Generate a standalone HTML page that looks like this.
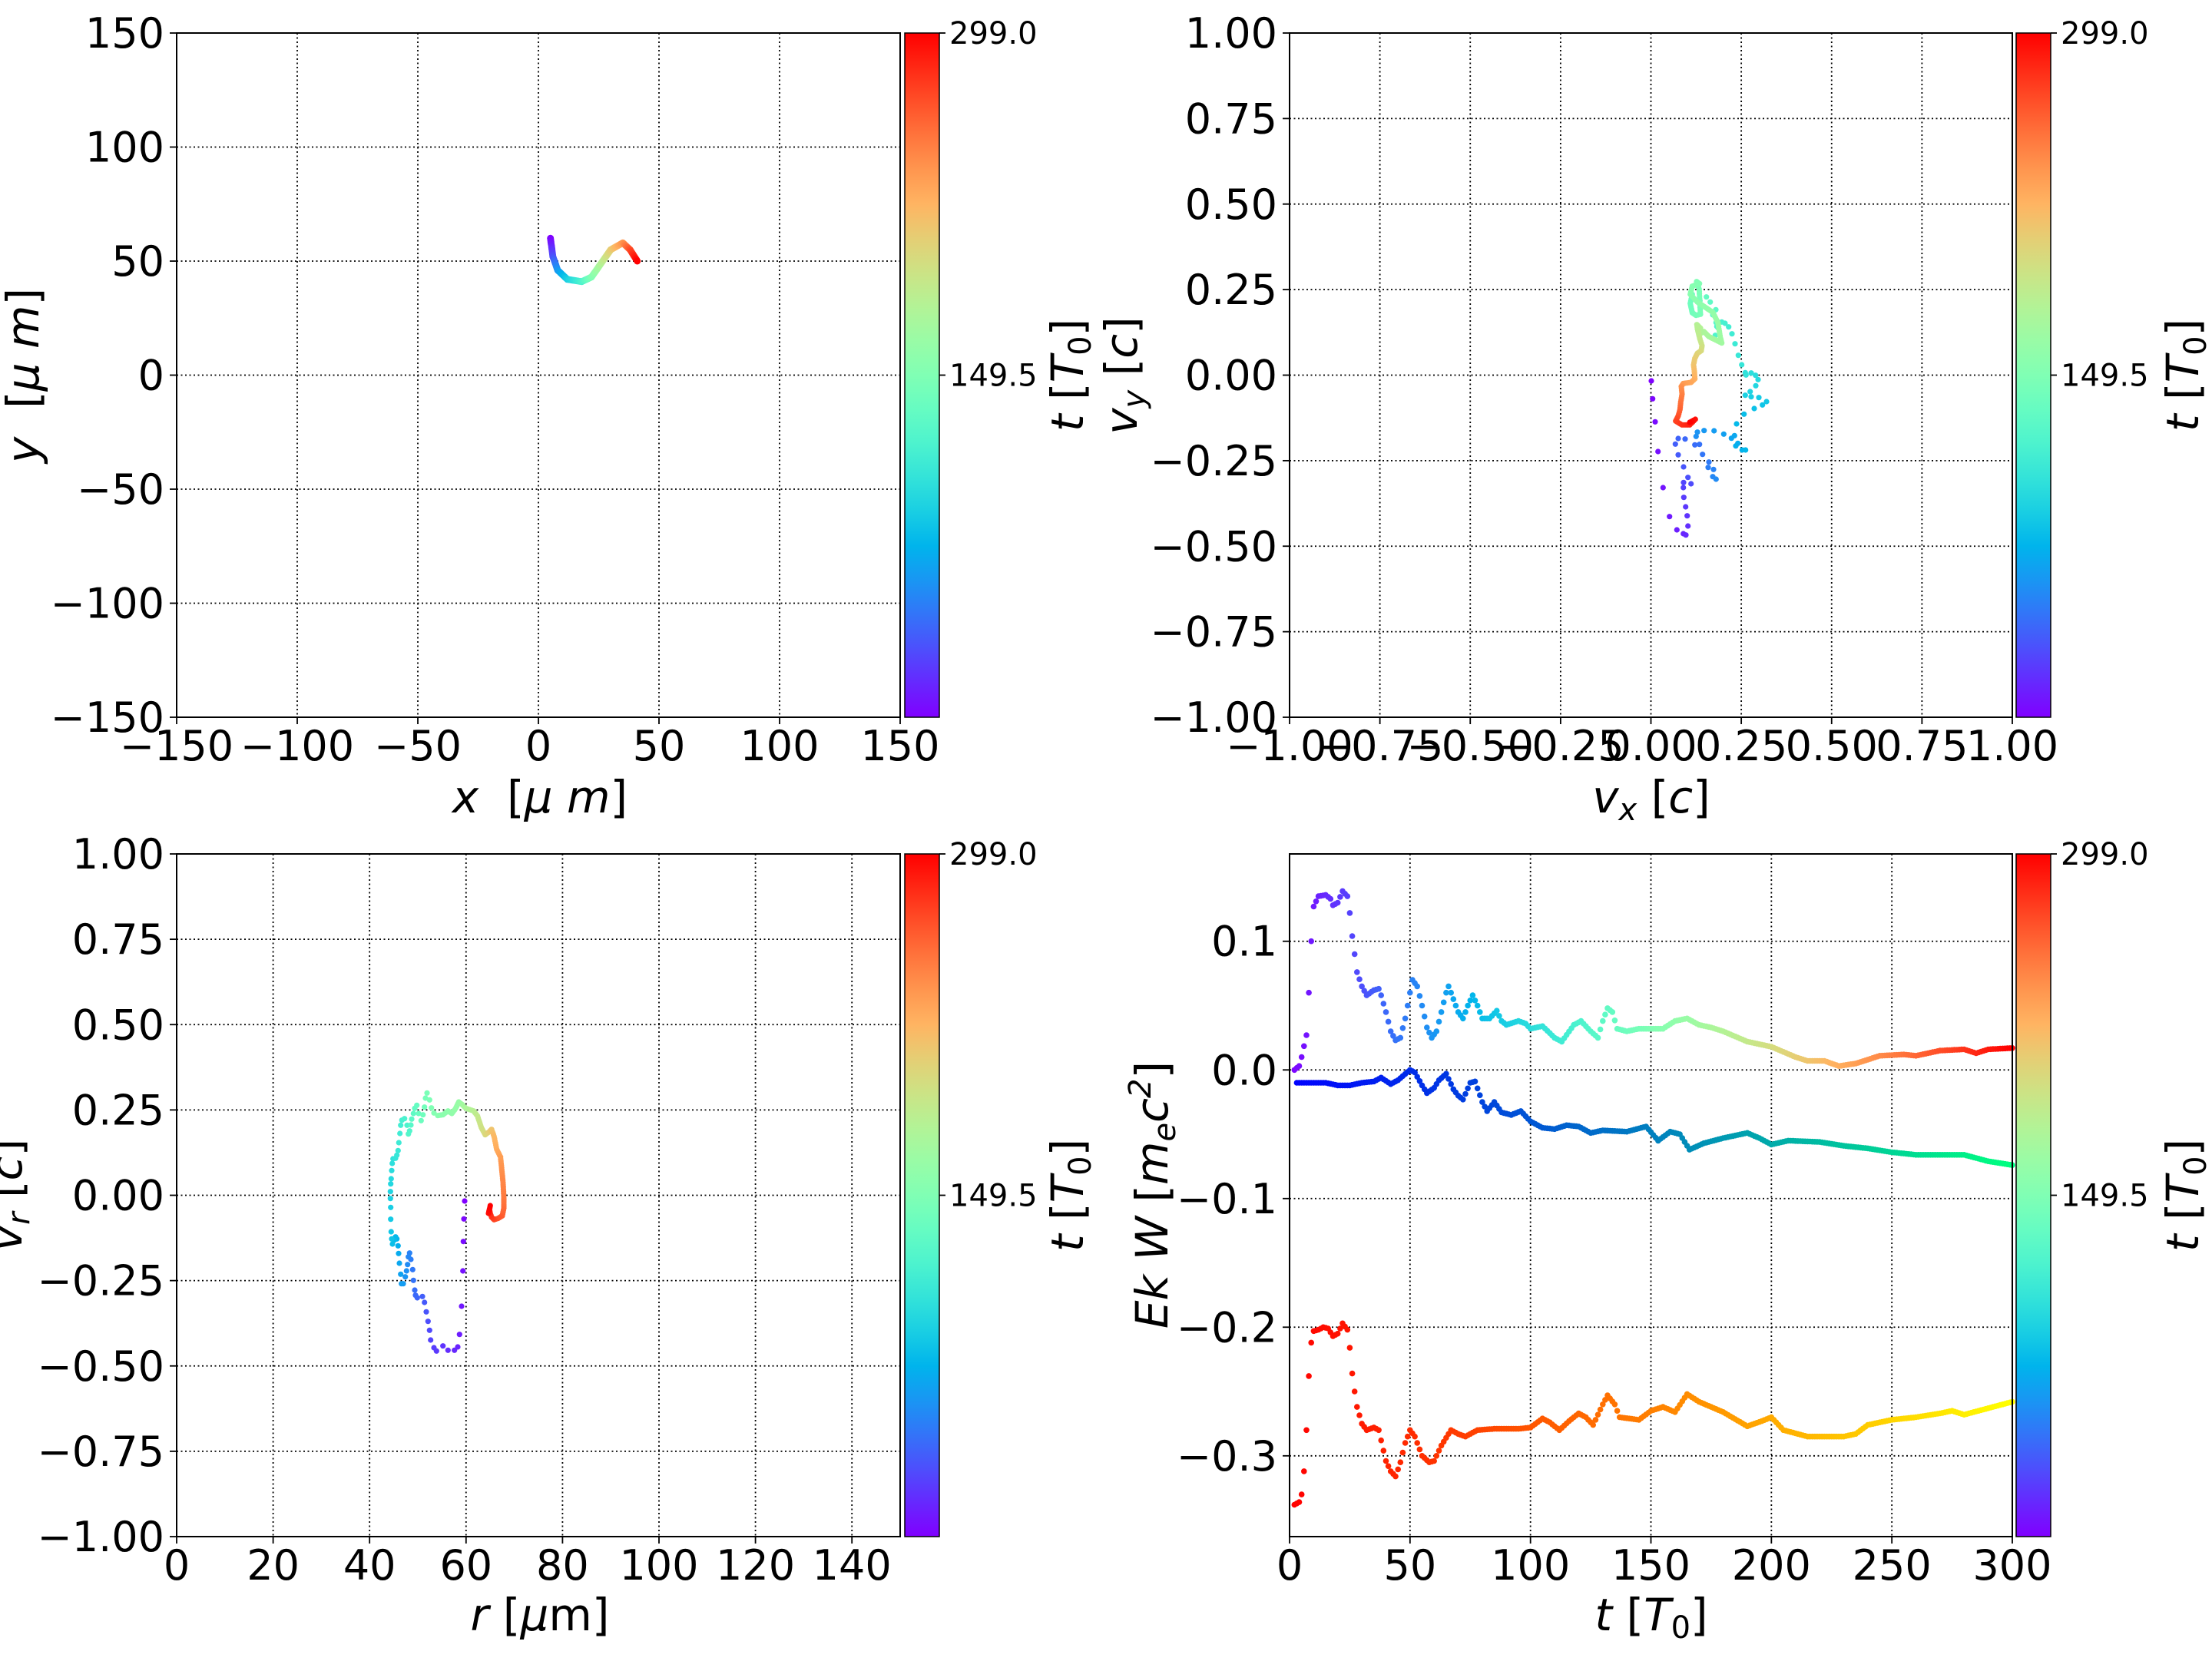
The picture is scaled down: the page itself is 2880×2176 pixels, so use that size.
<!DOCTYPE html>
<html><head><meta charset="utf-8">
<style>html,body{margin:0;padding:0;background:#fff;}svg{display:block;}</style>
</head><body>
<svg id="s" xmlns="http://www.w3.org/2000/svg" width="2880" height="2176" viewBox="0 0 2880 2176" font-family="DejaVu Sans, Liberation Sans, sans-serif"></svg>
<script>
(function(){
const S=document.getElementById('s');let out='';
function cl(x){return Math.max(0,Math.min(1,x));}
function hex(r,g,b){return 'rgb('+Math.round(cl(r)*255)+','+Math.round(cl(g)*255)+','+Math.round(cl(b)*255)+')';}
function rb(v){v=cl(v);return hex(Math.abs(2*v-0.5),Math.sin(Math.PI*v),Math.cos(Math.PI*v/2));}
function winter(v){v=cl(v);return hex(0,v,1-v/2);}
function autumn(v){v=cl(v);return hex(1,v,0);}
function pw(knots){return function(v){for(let i=0;i<knots.length-1;i++){const a=knots[i],b=knots[i+1];if(v<=b[0]){return rb(a[1]+(b[1]-a[1])*(v-a[0])/(b[0]-a[0]));}}return rb(1);};}
let g='<defs><linearGradient id="cb" x1="0" y1="1" x2="0" y2="0">';
for(let i=0;i<=20;i++){g+='<stop offset="'+(i/20)+'" stop-color="'+rb(i/20)+'"/>';}
g+='</linearGradient></defs>';out+=g;
const M='−';
function fmt(v,d){let s=Math.abs(v).toFixed(d);return (v<0?M:'')+s;}
function axes(o){
  const L=o.L,R=o.R,T=o.T,B=o.B,x0=o.x0,x1=o.x1,y0=o.y0,y1=o.y1;
  const X=v=>L+(v-x0)/(x1-x0)*(R-L), Y=v=>B-(v-y0)/(y1-y0)*(B-T);
  let s='';
  o.xt.forEach(v=>{const px=X(v);
    if(px>L+1&&px<R-1) s+='<line x1="'+px+'" y1="'+T+'" x2="'+px+'" y2="'+B+'" stroke="#000" stroke-width="1.8" stroke-dasharray="2,3.5"/>';
    s+='<line x1="'+px+'" y1="'+B+'" x2="'+px+'" y2="'+(B+9)+'" stroke="#000" stroke-width="1.8"/>';
    s+='<text x="'+px+'" y="'+(B+56)+'" font-size="54" text-anchor="middle">'+fmt(v,o.xd)+'</text>';});
  o.yt.forEach(v=>{const py=Y(v);
    if(py>T+1&&py<B-1) s+='<line x1="'+L+'" y1="'+py+'" x2="'+R+'" y2="'+py+'" stroke="#000" stroke-width="1.8" stroke-dasharray="2,3.5"/>';
    s+='<line x1="'+(L-9)+'" y1="'+py+'" x2="'+L+'" y2="'+py+'" stroke="#000" stroke-width="1.8"/>';
    s+='<text x="'+(L-16)+'" y="'+(py+19)+'" font-size="54" text-anchor="end">'+fmt(v,o.yd)+'</text>';});
  o.X=X;o.Y=Y;
  o.frame='<rect x="'+L+'" y="'+T+'" width="'+(R-L)+'" height="'+(B-T)+'" fill="none" stroke="#000" stroke-width="2"/>';
  return s;
}
function cbar(cx,T,B,labx){
  let s='<rect x="'+cx+'" y="'+T+'" width="45" height="'+(B-T)+'" fill="url(#cb)" stroke="#000" stroke-width="1.5"/>';
  [[T,'299.0'],[(T+B)/2,'149.5']].forEach(function(a){var y=a[0],t=a[1];
    s+='<line x1="'+(cx+45)+'" y1="'+y+'" x2="'+(cx+53)+'" y2="'+y+'" stroke="#000" stroke-width="1.8"/>';
    s+='<text x="'+(cx+58)+'" y="'+(y+14)+'" font-size="40">'+t+'</text>';});
  s+='<text transform="translate('+labx+','+((T+B)/2)+') rotate(-90)" font-size="58" text-anchor="middle"><tspan font-style="italic">t</tspan> [<tspan font-style="italic">T</tspan><tspan font-size="40" dy="10">0</tspan><tspan dy="-10">]</tspan></text>';
  return s;
}
function dots(pts,cf,r,thr,step){
  let s='';const n=pts.length;
  for(let i=0;i<n;i++){
    const x=pts[i][0],y=pts[i][1];const v=i/(n-1);
    s+='<circle cx="'+x.toFixed(1)+'" cy="'+y.toFixed(1)+'" r="'+r+'" fill="'+cf(v)+'"/>';
    if(i<n-1 && v>=thr){const x2=pts[i+1][0],y2=pts[i+1][1];const d=Math.hypot(x2-x,y2-y);const k=Math.ceil(d/step);
      for(let j=1;j<k;j++){const f=j/k;s+='<circle cx="'+(x+(x2-x)*f).toFixed(1)+'" cy="'+(y+(y2-y)*f).toFixed(1)+'" r="'+r+'" fill="'+cf((i+f)/(n-1))+'"/>';}}
  }
  return s;
}
const t150=[-150,-100,-50,0,50,100,150];
const tq=[-1,-0.75,-0.5,-0.25,0,0.25,0.5,0.75,1];
let A={L:230,R:1172,T:43,B:934,x0:-150,x1:150,y0:-150,y1:150,xt:t150,yt:t150,xd:0,yd:0};
out+=axes(A);
let p1=[[5,60],[6,52],[8,46],[12,42],[18,41],[22,43],[26,49],[30,55],[35,58],[38,55],[41,50]].map(p=>[A.X(p[0]),A.Y(p[1])]);
out+=dots(p1,rb,4.5,0,2.5);out+=A.frame;
out+=cbar(1178,43,934,1410);
out+='<text x="703" y="1058" font-size="58" text-anchor="middle"><tspan font-style="italic">x</tspan>\u00a0\u00a0[<tspan font-style="italic">μ m</tspan>]</text>';
out+='<text transform="translate(50,489) rotate(-90)" font-size="58" text-anchor="middle"><tspan font-style="italic">y</tspan>\u00a0\u00a0[<tspan font-style="italic">μ m</tspan>]</text>';
let B2={L:1679,R:2620,T:43,B:934,x0:-1,x1:1,y0:-1,y1:1,xt:tq,yt:tq,xd:2,yd:2};
out+=axes(B2);
let z2=[[150,468],[155,538],[165,628],[176,744],[196,885],[221,998],[250,1050],[275,1065],[285,1070],[293,1035],[290,995],[284,960],[277,923],[275,885],[276,865],[305,870],[293,845],[276,804],[255,757],[244,715],[255,693],[282,695],[320,718],[338,716],[350,755],[375,785],[372,806],[393,814],[390,842],[403,852],[325,685],[330,668],[356,662],[395,663],[433,676],[463,692],[475,682],[488,712],[480,722],[505,738],[518,738],[483,636],[512,598],[552,576],[584,562],[600,549],[570,533],[540,530],[517,524],[536,510],[558,487],[567,463],[557,446],[540,437],[517,436],[520,445],[503,405],[490,368],[477,323],[465,284],[452,257],[438,243],[425,238],[406,255],[400,290],[410,260],[403,240],[390,210],[402,190],[380,160],[365,140],[340,155],[310,130],[302,165],[310,202],[325,212],[342,208],[337,110],[327,80],[338,88],[310,98],[302,130],[330,160],[360,180],[390,200],[400,220],[410,240],[420,300],[425,320],[395,305],[375,295],[355,275],[338,285],[342,262],[328,248],[330,265],[335,285],[340,305],[348,330],[345,350],[330,360],[320,380],[315,405],[318,430],[320,460],[305,474],[275,478],[267,490],[270,520],[265,550],[262,580],[255,605],[245,625],[270,640],[300,640],[322,618],[300,630]].map(p=>[2100+p[0]/3,340+p[1]/3]);
out+=dots(z2,pw([[0,0],[0.57,0.42],[0.83,0.62],[0.92,0.8],[1,1]]),3.6,0.62,3);out+=B2.frame;
out+=cbar(2625,43,934,2862);
out+='<text x="2150" y="1058" font-size="58" text-anchor="middle"><tspan font-style="italic">v<tspan font-size="40" dy="10">x</tspan></tspan><tspan dy="-10"> [</tspan><tspan font-style="italic">c</tspan>]</text>';
out+='<text transform="translate(1480,489) rotate(-90)" font-size="58" text-anchor="middle"><tspan font-style="italic">v<tspan font-size="40" dy="10">y</tspan></tspan><tspan dy="-10"> [</tspan><tspan font-style="italic">c</tspan>]</text>';
let C={L:230,R:1172,T:1112,B:2001,x0:0,x1:150,y0:-1,y1:1,xt:[0,20,40,60,80,100,120,140],yt:tq,xd:0,yd:2};
out+=axes(C);
let z3=[[375,492],[372,562],[370,650],[368,765],[363,903],[355,1013],[348,1062],[335,1075],[310,1075],[290,1058],[265,1078],[255,1065],[242,1035],[238,997],[232,962],[225,925],[218,888],[210,865],[190,870],[183,860],[180,840],[175,802],[172,760],[165,720],[160,695],[155,710],[152,740],[148,765],[143,788],[135,815],[128,815],[125,778],[120,735],[117,697],[115,667],[110,640],[105,632],[100,645],[93,660],[90,640],[88,612],[86,563],[86,517],[85,482],[85,455],[86,425],[88,405],[90,373],[92,345],[95,327],[105,325],[110,313],[115,295],[118,264],[122,228],[125,196],[130,176],[140,170],[150,196],[160,218],[155,230],[165,195],[168,172],[175,150],[180,130],[188,118],[195,150],[205,178],[212,155],[218,125],[222,90],[228,70],[238,97],[245,128],[255,148],[270,158],[290,155],[310,140],[325,150],[340,130],[352,105],[365,115],[380,130],[410,140],[425,160],[440,205],[455,233],[470,222],[480,212],[490,240],[500,290],[515,320],[520,370],[525,420],[528,480],[528,520],[522,550],[505,560],[490,565],[480,555],[475,540],[472,525],[468,540],[475,510]].map(p=>[480+p[0]/3,1400+p[1]/3]);
out+=dots(z3,pw([[0,0],[0.41,0.3],[0.78,0.55],[0.89,0.8],[1,1]]),3.6,0.72,3);out+=C.frame;
out+=cbar(1178,1112,2001,1410);
out+='<text x="703" y="2123" font-size="58" text-anchor="middle"><tspan font-style="italic">r</tspan> [<tspan font-style="italic">μ</tspan>m]</text>';
out+='<text transform="translate(28,1556) rotate(-90)" font-size="58" text-anchor="middle"><tspan font-style="italic">v<tspan font-size="40" dy="10">r</tspan></tspan><tspan dy="-10"> [</tspan><tspan font-style="italic">c</tspan>]</text>';
let D={L:1679,R:2620,T:1112,B:2001,x0:0,x1:300,y0:-0.3628,y1:0.1679,xt:[0,50,100,150,200,250,300],yt:[0.1,0,-0.1,-0.2,-0.3],xd:0,yd:1};
out+=axes(D);
function series(wp,cf){
  let s='';let j=0;
  for(let t=wp[0][0];t<=300;t+=1){
    while(j<wp.length-2&&wp[j+1][0]<t)j++;
    const ta=wp[j][0],ya=wp[j][1],tb=wp[j+1][0],yb=wp[j+1][1];const f=cl((t-ta)/(tb-ta));const y=ya+(yb-ya)*f;
    s+='<circle cx="'+D.X(t).toFixed(1)+'" cy="'+D.Y(y).toFixed(1)+'" r="3.8" fill="'+cf(t/300)+'"/>';
  }
  return s;
}
const sTop=[[2,0.0],[4,0.003],[5,0.01],[7,0.027],[8,0.06],[9,0.1],[10,0.127],[12,0.135],[15,0.136],[17,0.133],[18,0.128],[20,0.13],[22,0.139],[24,0.135],[25,0.122],[26,0.104],[27,0.09],[28,0.076],[30,0.065],[32,0.058],[35,0.062],[37,0.063],[38,0.058],[40,0.045],[42,0.03],[44,0.023],[46,0.025],[48,0.04],[50,0.06],[51,0.07],[53,0.065],[55,0.05],[57,0.033],[59,0.025],[61,0.03],[63,0.045],[65,0.06],[66,0.065],[68,0.055],[70,0.045],[72,0.04],[74,0.05],[76,0.058],[78,0.05],[80,0.04],[83,0.04],[86,0.046],[88,0.038],[90,0.035],[95,0.038],[98,0.036],[100,0.032],[105,0.034],[110,0.025],[113,0.022],[118,0.035],[121,0.038],[125,0.03],[128,0.025],[130,0.038],[132,0.048],[134,0.045],[136,0.032],[140,0.03],[145,0.032],[150,0.032],[155,0.032],[160,0.038],[165,0.04],[170,0.035],[175,0.033],[180,0.03],[190,0.022],[200,0.018],[210,0.01],[215,0.007],[222,0.007],[228,0.003],[235,0.005],[245,0.011],[255,0.012],[260,0.011],[270,0.015],[280,0.016],[285,0.013],[290,0.016],[300,0.017]];
const sMid=[[3,-0.01],[10,-0.01],[15,-0.01],[20,-0.012],[25,-0.012],[30,-0.01],[35,-0.009],[38,-0.006],[42,-0.011],[45,-0.008],[50,0.0],[52,-0.002],[55,-0.012],[57,-0.018],[60,-0.014],[62,-0.008],[65,-0.003],[68,-0.015],[70,-0.02],[72,-0.023],[75,-0.01],[77,-0.009],[80,-0.025],[82,-0.032],[85,-0.025],[88,-0.033],[92,-0.035],[96,-0.032],[100,-0.04],[105,-0.045],[110,-0.046],[115,-0.043],[120,-0.044],[125,-0.049],[130,-0.047],[140,-0.048],[148,-0.044],[153,-0.055],[158,-0.048],[162,-0.05],[166,-0.062],[172,-0.057],[180,-0.053],[190,-0.049],[195,-0.053],[200,-0.058],[207,-0.055],[220,-0.056],[230,-0.059],[240,-0.061],[250,-0.064],[260,-0.066],[270,-0.066],[280,-0.066],[290,-0.071],[300,-0.074]];
const sBot=[[2,-0.338],[4,-0.336],[5,-0.33],[6,-0.312],[7,-0.28],[8,-0.238],[9,-0.212],[10,-0.203],[12,-0.202],[14,-0.2],[16,-0.201],[18,-0.207],[20,-0.205],[22,-0.197],[24,-0.202],[25,-0.216],[26,-0.236],[27,-0.25],[28,-0.262],[30,-0.275],[32,-0.28],[35,-0.278],[37,-0.28],[40,-0.304],[42,-0.312],[44,-0.316],[46,-0.305],[48,-0.29],[50,-0.28],[52,-0.285],[55,-0.3],[58,-0.305],[60,-0.304],[63,-0.292],[67,-0.28],[70,-0.283],[73,-0.285],[78,-0.28],[85,-0.279],[95,-0.279],[100,-0.278],[105,-0.271],[108,-0.274],[112,-0.28],[116,-0.273],[120,-0.267],[123,-0.27],[126,-0.276],[130,-0.26],[132,-0.253],[135,-0.26],[137,-0.27],[145,-0.272],[150,-0.265],[155,-0.262],[160,-0.266],[165,-0.252],[170,-0.258],[175,-0.262],[180,-0.266],[190,-0.277],[196,-0.273],[200,-0.27],[205,-0.28],[215,-0.285],[230,-0.285],[235,-0.283],[240,-0.276],[250,-0.272],[260,-0.27],[270,-0.267],[275,-0.265],[280,-0.268],[290,-0.263],[300,-0.258]];
out+=series(sTop,rb)+series(sMid,winter)+series(sBot,autumn);
out+=D.frame;
out+=cbar(2625,1112,2001,2862);
out+='<text x="2150" y="2123" font-size="58" text-anchor="middle"><tspan font-style="italic">t</tspan> [<tspan font-style="italic">T</tspan><tspan font-size="40" dy="10">0</tspan><tspan dy="-10">]</tspan></text>';
out+='<text transform="translate(1520,1556) rotate(-90)" font-size="58" text-anchor="middle"><tspan font-style="italic">Ek W</tspan> [<tspan font-style="italic">m<tspan font-size="40" dy="10">e</tspan><tspan dy="-10">c</tspan><tspan font-size="40" dy="-22">2</tspan></tspan><tspan dy="22">]</tspan></text>';
S.innerHTML=out;
})();
</script>
</body></html>
